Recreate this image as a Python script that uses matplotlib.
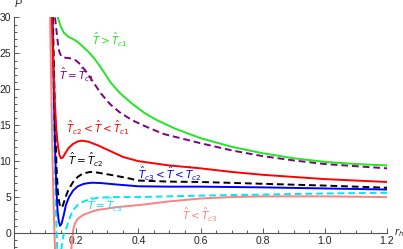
import numpy as np
import matplotlib
matplotlib.use("Agg")
import matplotlib.pyplot as plt
from matplotlib.ticker import MultipleLocator, FixedLocator

plt.rcParams['font.family'] = ['Liberation Sans', 'DejaVu Sans']
plt.rcParams['mathtext.fontset'] = 'dejavusans'

# ---- data ----
green_x = [0.141, 0.150, 0.160, 0.175, 0.19, 0.205, 0.22, 0.24, 0.26, 0.28, 0.31, 0.34, 0.38, 0.42, 0.46, 0.52, 0.60, 0.70, 0.80, 0.90, 1.00, 1.10, 1.2]
green_y = [30, 28.8, 27.9, 27.3, 27.0, 26.6, 26.0, 25.2, 24.2, 23.0, 21.0, 19.5, 18.0, 16.7, 15.7, 14.5, 13.2, 12.0, 11.1, 10.4, 9.9, 9.6, 9.4]

purple_x = [0.132, 0.137, 0.141, 0.146, 0.152, 0.165, 0.185, 0.20, 0.215, 0.235, 0.255, 0.28, 0.31, 0.34, 0.38, 0.42, 0.48, 0.60, 0.70, 0.80, 0.90, 1.00, 1.10, 1.2]
purple_y = [30, 28, 26.5, 25.2, 24.6, 24.4, 24.3, 24.0, 23.4, 22.3, 21.0, 19.4, 17.9, 16.8, 15.7, 14.9, 13.8, 12.5, 11.5, 10.7, 10.1, 9.6, 9.3, 9.0]

red_x = [0.122, 0.126, 0.131, 0.136, 0.141, 0.146, 0.151, 0.157, 0.165, 0.175, 0.19, 0.205, 0.22, 0.24, 0.27, 0.30, 0.35, 0.40, 0.50, 0.60, 0.70, 0.80, 0.90, 1.00, 1.10, 1.2]
red_y = [30, 24, 18.5, 14.5, 12.2, 10.9, 10.4, 10.5, 11.1, 11.8, 12.4, 12.75, 12.85, 12.7, 12.2, 11.6, 10.6, 10.0, 9.4, 9.0, 8.5, 8.1, 7.8, 7.5, 7.3, 7.1]

black_x = [0.125, 0.129, 0.133, 0.137, 0.141, 0.146, 0.151, 0.157, 0.165, 0.175, 0.19, 0.205, 0.22, 0.245, 0.27, 0.31, 0.36, 0.40, 0.50, 0.60, 0.80, 1.00, 1.2]
black_y = [30, 22, 14.5, 9, 5.8, 4.1, 3.5, 3.8, 4.9, 6.0, 7.1, 7.8, 8.25, 8.5, 8.4, 8.1, 7.7, 7.3, 7.15, 7.1, 6.85, 6.6, 6.3]

blue_x = [0.124, 0.128, 0.132, 0.136, 0.140, 0.144, 0.148, 0.153, 0.160, 0.167, 0.177, 0.19, 0.205, 0.225, 0.25, 0.28, 0.33, 0.40, 0.50, 0.60, 0.80, 1.00, 1.2]
blue_y = [30, 20, 12, 6.5, 3.2, 1.6, 1.0, 1.3, 2.5, 3.9, 5.0, 5.9, 6.5, 6.85, 7.0, 6.95, 6.75, 6.5, 6.45, 6.45, 6.35, 6.2, 6.05]

cyan_x = [0.123, 0.127, 0.131, 0.135, 0.139, 0.145, 0.152, 0.158, 0.165, 0.170, 0.180, 0.19, 0.205, 0.222, 0.245, 0.27, 0.32, 0.40, 0.50, 0.60, 0.80, 1.00, 1.2]
cyan_y = [30, 20, 10, 3, -2.3, -5, -2.3, -0.5, 0.3, 0.9, 2.2, 3.2, 3.9, 4.35, 4.7, 4.9, 5.0, 5.0, 5.1, 5.2, 5.35, 5.5, 5.6]

pink_x = [0.116, 0.120, 0.124, 0.128, 0.132, 0.155, 0.184, 0.190, 0.196, 0.202, 0.212, 0.222, 0.245, 0.267, 0.30, 0.331, 0.405, 0.50, 0.60, 0.70, 0.80, 1.00, 1.2]
pink_y = [30, 20, 10, 3, -2.3, -10, -2.3, 0.4, 1.3, 1.8, 2.2, 2.5, 2.9, 3.2, 3.4, 3.6, 3.9, 4.4, 4.8, 5.0, 5.1, 5.1, 5.0]

x_ticks = [0.2, 0.4, 0.6, 0.8, 1.0, 1.2]
x_ticklabels = ["0.2", "0.4", "0.6", "0.8", "1.0", "1.2"]
y_ticks = [0, 5, 10, 15, 20, 25, 30]

C_GREEN = '#22e622'
C_PURPLE = '#800080'
C_RED = '#ff0000'
C_BLACK = '#000000'
C_BLUE = '#0000ff'
C_CYAN = '#00e8f0'
C_PINK = '#ff8080'

fig = plt.figure(figsize=(4.03, 2.49), dpi=100)
ax = fig.add_axes([14/403, 0, (387-14)/403, (249-17.5)/249])
ax.set_xlim(0, 1.2)
ax.set_ylim(-2.23, 30)

lw = 1.4
dash = (3.5, 2.0)
ax.plot(pink_x, pink_y, color=C_PINK, lw=lw, zorder=2)
ax.plot(cyan_x, cyan_y, color=C_CYAN, lw=lw, dashes=dash, zorder=3)
ax.plot(blue_x, blue_y, color=C_BLUE, lw=lw, zorder=4)
ax.plot(black_x, black_y, color=C_BLACK, lw=lw, dashes=dash, zorder=5)
ax.plot(red_x, red_y, color=C_RED, lw=lw, zorder=6)
ax.plot(purple_x, purple_y, color=C_PURPLE, lw=lw, dashes=dash, zorder=7)
ax.plot(green_x, green_y, color=C_GREEN, lw=lw, zorder=8)

fs = 7.5
ax.text(0.309, 26.9, r'$\hat{T}>\hat{T}_{c1}$', color=C_GREEN, fontsize=fs, ha='center', va='center')
ax.text(0.203, 22.0, r'$\hat{T}=\hat{T}_{c1}$', color=C_PURPLE, fontsize=fs, ha='center', va='center')
ax.text(0.27, 14.6, r'$\hat{T}_{c2}<\hat{T}<\hat{T}_{c1}$', color=C_RED, fontsize=fs, ha='center', va='center')
ax.text(0.232, 10.2, r'$\hat{T}=\hat{T}_{c2}$', color=C_BLACK, fontsize=fs, ha='center', va='center')
ax.text(0.50, 8.2, r'$\hat{T}_{c3}<\hat{T}<\hat{T}_{c2}$', color=C_BLUE, fontsize=fs, ha='center', va='center')
ax.text(0.293, 3.9, r'$\hat{T}=\hat{T}_{c3}$', color=C_CYAN, fontsize=fs, ha='center', va='center')
ax.text(0.598, 2.5, r'$\hat{T}<\hat{T}_{c3}$', color=C_PINK, fontsize=fs, ha='center', va='center')

# axes styling (Mathematica-like)
for s in ['top', 'right']:
    ax.spines[s].set_visible(False)
ax.spines['left'].set_position(('data', 0))
ax.spines['bottom'].set_position(('data', 0))
for s in ['left', 'bottom']:
    ax.spines[s].set_color('#555555')
    ax.spines[s].set_linewidth(0.8)

ax.xaxis.set_major_locator(FixedLocator(x_ticks))
ax.set_xticklabels(x_ticklabels)
ax.xaxis.set_minor_locator(MultipleLocator(0.05))
ax.yaxis.set_major_locator(FixedLocator(y_ticks))
ax.yaxis.set_minor_locator(MultipleLocator(1))
ax.tick_params(which='both', direction='in', color='#555555', labelsize=7.5, labelcolor='#222222', width=0.7)
ax.tick_params(which='major', length=3.5, pad=2)
ax.tick_params(which='minor', length=2)

ax.text(0.013, 31.9, 'P', style='italic', fontsize=7.5, ha='center', va='center', clip_on=False, color='#222222')
ax.text(1.222, 0.1, r'$r_h$', fontsize=7, ha='left', va='center', clip_on=False, color='#222222')

fig.savefig('out.png', dpi=100)
